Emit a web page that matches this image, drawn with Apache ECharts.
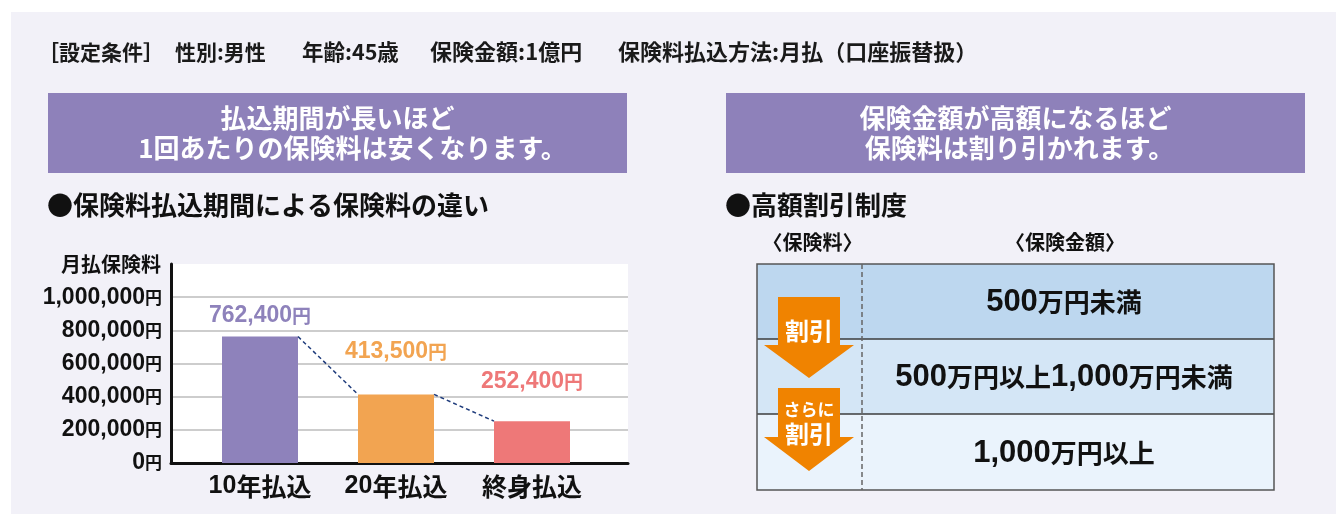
<!DOCTYPE html>
<html><head><meta charset="utf-8">
<script src="https://cdn.jsdelivr.net/npm/echarts@6/dist/echarts.min.js"></script>
<style>html,body{margin:0;padding:0;background:#fff}#c{width:1336px;height:514px}</style>
</head><body><div id="c"></div>
<script>
// ---- data ----
const categories = ['10年払込', '20年払込', '終身払込'];
const premiums = [762400, 413500, 252400];
const yTickValues = [0, 200000, 400000, 600000, 800000, 1000000];
const yAxisTop = 1200000;
const yAxisName = '月払保険料';
const conditionParts = ['［設定条件］', '性別:男性', '年齢:45歳', '保険金額:1億円', '保険料払込方法:月払（口座振替扱）'];
const leftBanner = ['払込期間が長いほど', '1回あたりの保険料は安くなります。'];
const rightBanner = ['保険金額が高額になるほど', '保険料は割り引かれます。'];
const leftTitle = '●保険料払込期間による保険料の違い';
const rightTitle = '●高額割引制度';
const tableHeaders = ['〈保険料〉', '〈保険金額〉'];
const tableRows = ['500万円未満', '500万円以上1,000万円未満', '1,000万円以上'];
const arrowLabels = [['割引'], ['さらに', '割引']];

// ---- styles / layout ----
const NUM = '"Liberation Sans", Arial, sans-serif';
const JP = '"Noto Sans CJK JP", sans-serif';
const barColors = ['#8e82bb', '#f2a451', '#ee7878'];
const labelGaps = [9, 31, 27];
const BAR_WIDTH = 76;
const conditionX = [38, 175, 302, 430, 618];
const conditionSize = [21, 21, 21.5, 22, 22];
const rowFills = ['#bdd7ef', '#d4e6f6', '#eaf3fc'];
const PANEL = '#f2f1f8';
const BANNER = '#8e81ba';
const ORANGE = '#f08300';

const fmt = v => v.toLocaleString('en-US');
function richify(s) {
  return s.split(/([0-9,]+)/).filter(t => t.length).map(t => /^[0-9,]+$/.test(t) ? `{n|${t}}` : `{j|${t}}`).join('');
}
function txt(text, x, y, size, o = {}) {
  const align = o.align || 'left';
  return {
    type: 'text', z: o.z || 10,
    style: {
      text, x, y, fill: o.fill || '#111',
      font: `bold ${size}px ${JP}`,
      align, textAlign: align, verticalAlign: 'middle', textVerticalAlign: 'middle',
      rich: o.rich
    }
  };
}

const graphics = [];
// white margins around the panel
graphics.push({ type: 'rect', shape: { x: 0, y: 0, width: 1336, height: 12 }, style: { fill: '#fff' }, z: 0 });
graphics.push({ type: 'rect', shape: { x: 0, y: 0, width: 11, height: 514 }, style: { fill: '#fff' }, z: 0 });
// conditions header
conditionParts.forEach((p, i) => graphics.push(txt(p, conditionX[i], 52, conditionSize[i], { fill: '#1a1a1a' })));
// banners
[[48, leftBanner, 15], [726, rightBanner, 4]].forEach(([x, lines, dx]) => {
  graphics.push({ type: 'rect', shape: { x, y: 93, width: 579, height: 80 }, style: { fill: BANNER }, z: 1 });
  lines.forEach((l, i) => graphics.push(txt(l, x + 289.5 + (i === 1 ? dx : 0), 118 + i * 30, 26, { fill: '#fff', align: 'center' })));
});
// section titles
graphics.push(txt(leftTitle, 47, 205, 26));
graphics.push(txt(rightTitle, 725, 205, 26));
// table
const T = { x: 757, y: 264, w: 517, split: 862, rowH: [75, 75, 76] };
graphics.push(txt(tableHeaders[0], (T.x + T.split) / 2 + 3, 242, 20, { align: 'center' }));
graphics.push(txt(tableHeaders[1], 1065, 242, 20, { align: 'center' }));
let ry = T.y;
tableRows.forEach((r, i) => {
  graphics.push({ type: 'rect', shape: { x: T.x, y: ry, width: T.w, height: T.rowH[i] }, style: { fill: rowFills[i] }, z: 1 });
  graphics.push(txt(richify(r), (T.split + T.x + T.w) / 2 - 4, ry + T.rowH[i] / 2 + 1, 26, {
    align: 'center',
    rich: {
      n: { fontFamily: NUM, fontWeight: 'bold', fontSize: 31, color: '#111', lineHeight: 34 },
      j: { fontFamily: JP, fontWeight: 'bold', fontSize: 26, color: '#111', lineHeight: 34 }
    }
  }));
  if (i > 0) graphics.push({ type: 'line', shape: { x1: T.x, y1: ry, x2: T.x + T.w, y2: ry }, style: { stroke: '#3c3c3c', lineWidth: 1.5 }, z: 3 });
  ry += T.rowH[i];
});
graphics.push({ type: 'rect', shape: { x: T.x, y: T.y, width: T.w, height: ry - T.y }, style: { fill: 'none', stroke: '#555', lineWidth: 1.5 }, z: 3 });
graphics.push({ type: 'line', shape: { x1: T.split, y1: T.y, x2: T.split, y2: ry }, style: { stroke: '#666', lineWidth: 1.5, lineDash: [5, 3] }, z: 3 });
// arrows
const arrows = [{ top: 297, base: 345, tip: 378 }, { top: 388, base: 437, tip: 471 }];
arrows.forEach(a => {
  graphics.push({ type: 'polygon', shape: { points: [[778, a.top], [840, a.top], [840, a.base], [854, a.base], [809, a.tip], [764, a.base], [778, a.base]] }, style: { fill: ORANGE }, z: 4 });
});
graphics.push(txt(arrowLabels[0][0], 809, 331, 24, { fill: '#fff', align: 'center', z: 5 }));
graphics.push(txt(arrowLabels[1][0], 809, 410, 17, { fill: '#fff', align: 'center', z: 5 }));
graphics.push(txt(arrowLabels[1][1], 809, 434, 24, { fill: '#fff', align: 'center', z: 5 }));

const chart = echarts.init(document.getElementById('c'), null, { renderer: 'canvas' });
const step = yTickValues[1] - yTickValues[0];
chart.setOption({
  backgroundColor: PANEL,
  animation: false,
  graphic: { elements: graphics },
  grid: [
    { left: 171, top: 264, width: 457, height: 199, show: true, backgroundColor: '#fff', borderWidth: 0, outerBoundsMode: 'none', containLabel: false },
    { left: 192, top: 264, width: 408, height: 199, show: false, outerBoundsMode: 'none', containLabel: false }
  ],
  xAxis: [
    { gridIndex: 0, type: 'value', min: 0, max: 1, axisLine: { show: true, onZero: false, lineStyle: { color: '#111', width: 3 } }, axisTick: { show: false }, axisLabel: { show: false }, splitLine: { show: false } },
    { gridIndex: 1, type: 'category', data: categories, axisLine: { show: false }, axisTick: { show: false },
      axisLabel: { margin: 10, formatter: v => richify(v),
        rich: { n: { fontFamily: NUM, fontWeight: 'bold', fontSize: 25, color: '#111', lineHeight: 26 },
                j: { fontFamily: JP, fontWeight: 'bold', fontSize: 25, color: '#111', lineHeight: 26 } } } }
  ],
  yAxis: [
    { gridIndex: 0, type: 'value', min: yTickValues[0], max: yAxisTop, interval: step,
      name: yAxisName, nameLocation: 'end', nameGap: 0,
      nameTextStyle: { align: 'right', verticalAlign: 'middle', padding: [0, 10, 0, 0], fontSize: 20, fontWeight: 'bold', fontFamily: JP, color: '#111' },
      axisLine: { show: true, lineStyle: { color: '#111', width: 3 } }, axisTick: { show: false },
      axisLabel: { margin: 9, showMaxLabel: false,
        formatter: v => yTickValues.includes(v) ? `{n|${fmt(v)}}{u|円}` : '',
        rich: { n: { fontFamily: NUM, fontWeight: 'bold', fontSize: 23, color: '#111' },
                u: { fontFamily: JP, fontWeight: 'bold', fontSize: 17, color: '#111' } } },
      splitLine: { show: true, showMaxLine: false, lineStyle: { color: '#bdbdbd', width: 1.5 } } },
    { gridIndex: 1, type: 'value', min: yTickValues[0], max: yAxisTop, show: false, splitLine: { show: false } }
  ],
  series: [
    { type: 'bar', xAxisIndex: 1, yAxisIndex: 1, barWidth: BAR_WIDTH, z: 3,
      data: premiums.map((v, i) => ({
        value: v, itemStyle: { color: barColors[i] },
        label: { show: true, position: 'top', distance: labelGaps[i],
          formatter: p => `{n|${fmt(p.value)}}{u|円}`,
          rich: { n: { fontFamily: NUM, fontWeight: 'bold', fontSize: 23, color: barColors[i], lineHeight: 24 },
                  u: { fontFamily: JP, fontWeight: 'bold', fontSize: 19, color: barColors[i], lineHeight: 24 } } }
      })) },
    { type: 'custom', xAxisIndex: 1, yAxisIndex: 1, z: 5, silent: true,
      encode: { x: 0, y: 1 },
      data: premiums.slice(0, -1).map((v, i) => [i, v, premiums[i + 1]]),
      renderItem: (params, api) => {
        const i = api.value(0);
        const a = api.coord([i, api.value(1)]);
        const b = api.coord([i + 1, api.value(2)]);
        const h = BAR_WIDTH / 2;
        return { type: 'line', shape: { x1: a[0] + h, y1: a[1], x2: b[0] - h, y2: b[1] },
                 style: { stroke: '#1f3c7c', lineWidth: 1.5, lineDash: [4, 3] } };
      } }
  ]
});
</script></body></html>
